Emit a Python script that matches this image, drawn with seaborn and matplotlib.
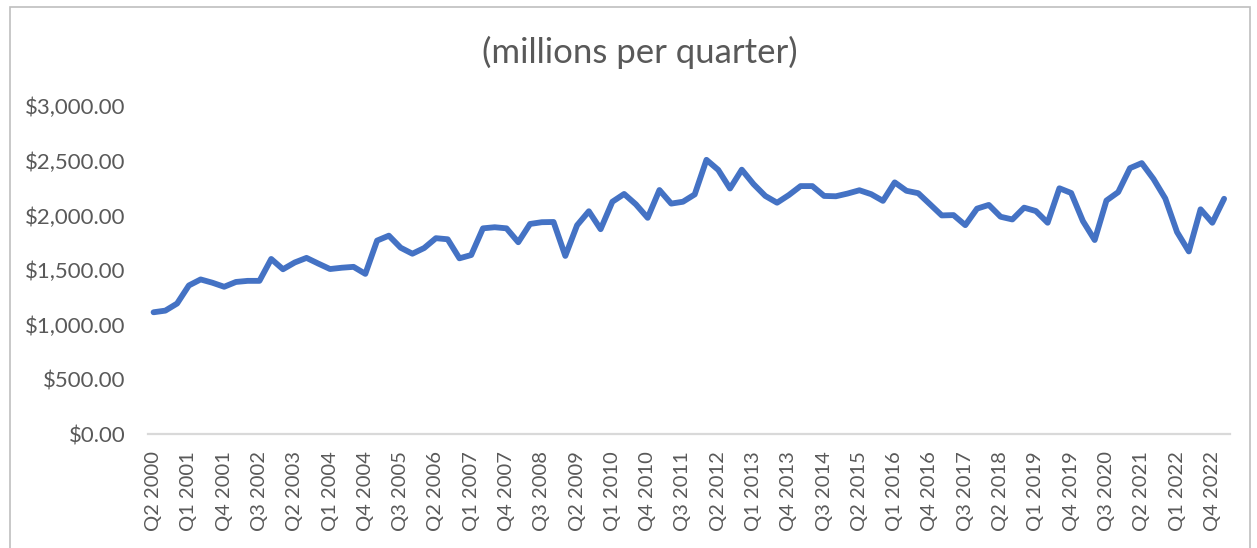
import matplotlib
matplotlib.use("Agg")
import matplotlib.pyplot as plt
import seaborn as sns
import pandas as pd
from matplotlib.patches import Rectangle

# Quarterly totals, Q2 2000 through Q1 2023 (millions of dollars)
first_year, first_quarter = 2000, 2
values = [
    1115, 1130, 1195, 1360, 1415, 1385, 1348, 1392, 1402, 1402,
    1602, 1508, 1570, 1612, 1560, 1510, 1522, 1530, 1466, 1770,
    1815, 1705, 1650, 1702, 1792, 1782, 1608, 1638, 1882, 1892,
    1882, 1755, 1922, 1938, 1940, 1630, 1910, 2038, 1874, 2125,
    2196, 2101, 1978, 2232, 2108, 2125, 2192, 2508, 2416, 2246,
    2418, 2286, 2178, 2116, 2186, 2268, 2268, 2178, 2175, 2200,
    2230, 2194, 2133, 2302, 2225, 2203, 2102, 2000, 2003, 1911,
    2062, 2096, 1988, 1963, 2071, 2040, 1933, 2248, 2205, 1948,
    1775, 2136, 2213, 2432, 2478, 2333, 2155, 1848, 1671, 2056,
    1933, 2152,
]

quarters = []
for k in range(len(values)):
    q = (first_quarter - 1 + k) % 4 + 1
    y = first_year + (first_quarter - 1 + k) // 4
    quarters.append(f"Q{q} {y}")

y_ticks = [0, 500, 1000, 1500, 2000, 2500, 3000]
title = "(millions per quarter)"

df = pd.DataFrame({"pos": range(len(values)), "quarter": quarters, "value": values})

sns.set_theme(style="white")
plt.rcParams["font.family"] = ["Lato", "DejaVu Sans"]

text_gray = "#595959"
fig = plt.figure(figsize=(12.57, 5.48), dpi=100)
ax = fig.add_axes([0.1175, 0.2075, 0.861, 0.5991])

sns.lineplot(data=df, x="pos", y="value", ax=ax, color="#4472C4",
             linewidth=4.2, solid_capstyle="round", solid_joinstyle="round")

ax.set_xlim(-0.5, len(values) - 0.5)
ax.set_ylim(0, 3000)
ax.set_yticks(y_ticks)
ax.set_yticklabels([f"${v:,.2f}" for v in y_ticks])
tick_pos = list(range(0, len(values), 3))
ax.set_xticks(tick_pos)
ax.set_xticklabels([quarters[i] for i in tick_pos], rotation=90)
ax.tick_params(axis="y", length=0, pad=16, labelsize=16, labelcolor=text_gray)
ax.tick_params(axis="x", length=0, pad=12, labelsize=14.5, labelcolor=text_gray)
ax.set_xlabel("")
ax.set_ylabel("")

for side in ["left", "right", "top"]:
    ax.spines[side].set_visible(False)
ax.spines["bottom"].set_color("#d9d9d9")
ax.spines["bottom"].set_linewidth(1.6)

fig.text(0.509, 0.905, title, ha="center", va="center", fontsize=25, color=text_gray)

# Chart-area border
fig.patches.append(Rectangle((10 / 1257, -0.05), 1240 / 1257, 1 - 7 / 548 + 0.05,
                             transform=fig.transFigure, fill=False,
                             edgecolor="#bfbfbf", linewidth=1.2))

fig.savefig("out.png", dpi=100)
